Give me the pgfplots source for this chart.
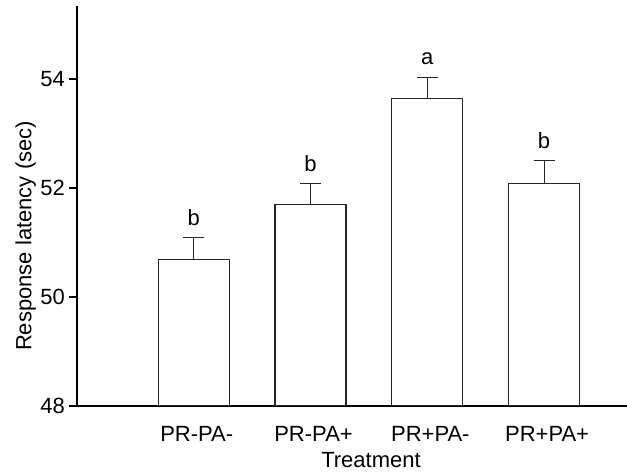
\documentclass[border=0pt]{standalone}
\usepackage{pgfplots}
\pgfplotsset{compat=1.18}
\usepackage{fontspec}
\setmainfont{Liberation Sans}
\pgfplotstableread{
x y err
0 50.69 0.40
1 51.70 0.38
2 53.64 0.39
3 52.09 0.41
}\datatable
\begin{document}
\begin{tikzpicture}
\useasboundingbox (-77pt,-67pt) rectangle (550pt,406pt);
\begin{axis}[
  at={(0,0)}, anchor=south west,
  scale only axis, width=550pt, height=400pt,
  xmin=-1.0, xmax=3.71, ymin=48, ymax=55.34,
  axis x line*=bottom, axis y line*=left,
  axis line style={line width=1.2pt, black},
  xtick=data, xticklabels={PR-PA-,PR-PA+,PR+PA-,PR+PA+},
  x tick style={draw=none},
  ytick={48,50,52,54},
  minor tick num=0,
  tick align=outside,
  major tick length=8pt,
  y tick style={line width=1.2pt, black},
  /pgf/number format/assume math mode=true,
  ticklabel style={font=\fontsize{22}{26}\selectfont},
  yticklabel style={anchor=east, inner sep=0pt, xshift=-4pt},
  xticklabel style={anchor=base, inner sep=0pt, yshift=-28pt, xshift=3pt},
  xlabel={Treatment},
  ylabel={Response latency (sec)},
  label style={font=\fontsize{22}{26}\selectfont},
  xlabel style={at={(axis description cs:0.5345,-0.155)}, anchor=base, inner sep=0pt},
  ylabel style={at={(axis description cs:-0.0745,0.425)}, anchor=south, rotate=0, inner sep=0pt},
  clip=true,
]
\addplot[ybar, bar width=71pt, bar shift=0pt, fill=white, draw=black!85, line width=1.1pt,
  error bars/.cd, y dir=plus, y explicit,
  error bar style={line width=1.1pt, black!85},
  error mark options={rotate=90, line width=1.1pt, mark size=10.5pt, black!85}]
  table[x=x, y=y, y error=err] {\datatable};
\node[anchor=base, font=\fontsize{22}{26}\selectfont, yshift=12.5pt] at (axis cs:0,51.09) {b};
\node[anchor=base, font=\fontsize{22}{26}\selectfont, yshift=12.5pt] at (axis cs:1,52.08) {b};
\node[anchor=base, font=\fontsize{22}{26}\selectfont, yshift=12.5pt] at (axis cs:2,54.03) {a};
\node[anchor=base, font=\fontsize{22}{26}\selectfont, yshift=12.5pt] at (axis cs:3,52.50) {b};
\end{axis}
\end{tikzpicture}
\end{document}
